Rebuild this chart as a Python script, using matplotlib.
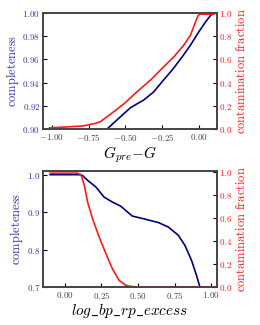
import matplotlib
matplotlib.use("Agg")
import matplotlib.pyplot as plt
from matplotlib.ticker import FuncFormatter, FixedLocator

plt.rcParams['mathtext.fontset'] = 'cm'
plt.rcParams['font.family'] = ['DejaVu Serif']

# Top panel data (G_pre - G)
top_comp_x = [-0.624, -0.533, -0.465, -0.375, -0.307, -0.25, -0.181, -0.113, -0.057, 0.0, 0.046, 0.08, 0.095, 0.10]
top_comp_y = [0.900, 0.9106, 0.9184, 0.925, 0.932, 0.9408, 0.951, 0.9623, 0.9724, 0.9839, 0.9925, 0.998, 0.9995, 0.9995]
top_cont_x = [-1.015, -0.79, -0.70, -0.67, -0.579, -0.506, -0.42, -0.329, -0.25, -0.17, -0.102, -0.057, -0.027, -0.007, 0.005, 0.10]
top_cont_y = [0.01, 0.026, 0.05, 0.063, 0.149, 0.221, 0.322, 0.422, 0.523, 0.623, 0.724, 0.81, 0.91, 0.974, 0.99, 0.99]

# Bottom panel data (log_bp_rp_excess)
bot_comp_x = [-0.10, 0.099, 0.12, 0.155, 0.212, 0.268, 0.324, 0.381, 0.46, 0.55, 0.64, 0.707, 0.775, 0.82, 0.865, 0.899, 0.922]
bot_comp_y = [1.0, 1.0, 0.998, 0.985, 0.967, 0.940, 0.927, 0.916, 0.8895, 0.881, 0.872, 0.860, 0.838, 0.811, 0.771, 0.731, 0.70]
bot_cont_x = [-0.10, 0.085, 0.11, 0.133, 0.155, 0.189, 0.234, 0.28, 0.324, 0.37, 0.415, 0.449, 0.50, 1.0]
bot_cont_y = [0.993, 0.993, 0.98, 0.887, 0.741, 0.596, 0.436, 0.291, 0.160, 0.058, 0.015, 0.005, 0.0, 0.0]

top_xticks = [-1.0, -0.75, -0.5, -0.25, 0.0]
top_lticks = [0.90, 0.92, 0.94, 0.96, 0.98, 1.00]
bot_xticks = [0.0, 0.25, 0.5, 0.75, 1.0]
bot_lticks = [0.7, 0.8, 0.9, 1.0]
rticks = [0.0, 0.2, 0.4, 0.6, 0.8, 1.0]

BLUE = '#000080'
BLUE_TXT = '#3333aa'
RED = '#ff1a1a'

fig = plt.figure(figsize=(2.6, 3.25), dpi=100)


def mfmt(nd):
    return FuncFormatter(lambda v, p: r'$%s$' % (('%.' + str(nd) + 'f') % v))


def style(ax, ax2, xticks, xnd, lticks, lnd, xlabel):
    for s in ax.spines.values():
        s.set_color('#444444')
        s.set_linewidth(1.2)
    ax.xaxis.set_major_locator(FixedLocator(xticks))
    ax.xaxis.set_major_formatter(mfmt(xnd))
    ax.yaxis.set_major_locator(FixedLocator(lticks))
    ax.yaxis.set_major_formatter(mfmt(lnd))
    ax.tick_params(axis='both', direction='in', length=3, width=0.8, labelsize=6.5, pad=2)
    ax.tick_params(axis='x', labelcolor='#444444')
    ax.tick_params(axis='y', labelcolor=BLUE_TXT)
    ax.set_ylabel(r'$\mathrm{completeness}$', color=BLUE_TXT, fontsize=9, labelpad=1)
    ax.set_xlabel(xlabel, fontsize=11, labelpad=1)
    ax2.yaxis.set_major_locator(FixedLocator(rticks))
    ax2.yaxis.set_major_formatter(mfmt(1))
    ax2.tick_params(axis='y', direction='in', length=3, width=0.8, labelsize=6.5, labelcolor=RED, pad=2)
    ax2.set_ylabel(r'$\mathrm{contamination\ fraction}$', color=RED, fontsize=9, labelpad=2)
    for s in ax2.spines.values():
        s.set_color('#444444')
        s.set_linewidth(1.2)


ax1 = fig.add_axes([0.165, 0.603, 0.668, 0.357])
ax1r = ax1.twinx()
ax1.plot(top_comp_x, top_comp_y, color=BLUE, lw=1.2)
ax1r.plot(top_cont_x, top_cont_y, color=RED, lw=1.2)
ax1.set_xlim(-1.06, 0.12)
ax1.set_ylim(0.90, 1.00)
ax1r.set_ylim(0.0, 1.0)
style(ax1, ax1r, top_xticks, 2, top_lticks, 2, r'$G_{pre}{-}G$')

ax2 = fig.add_axes([0.165, 0.117, 0.668, 0.357])
ax2r = ax2.twinx()
ax2.plot(bot_comp_x, bot_comp_y, color=BLUE, lw=1.2)
ax2r.plot(bot_cont_x, bot_cont_y, color=RED, lw=1.2)
ax2.set_xlim(-0.15, 1.036)
ax2.set_ylim(0.7, 1.01)
ax2r.set_ylim(0.0, 1.012)
style(ax2, ax2r, bot_xticks, 2, bot_lticks, 1, r'$log\_bp\_rp\_excess$')

fig.savefig('out.png', dpi=100)
